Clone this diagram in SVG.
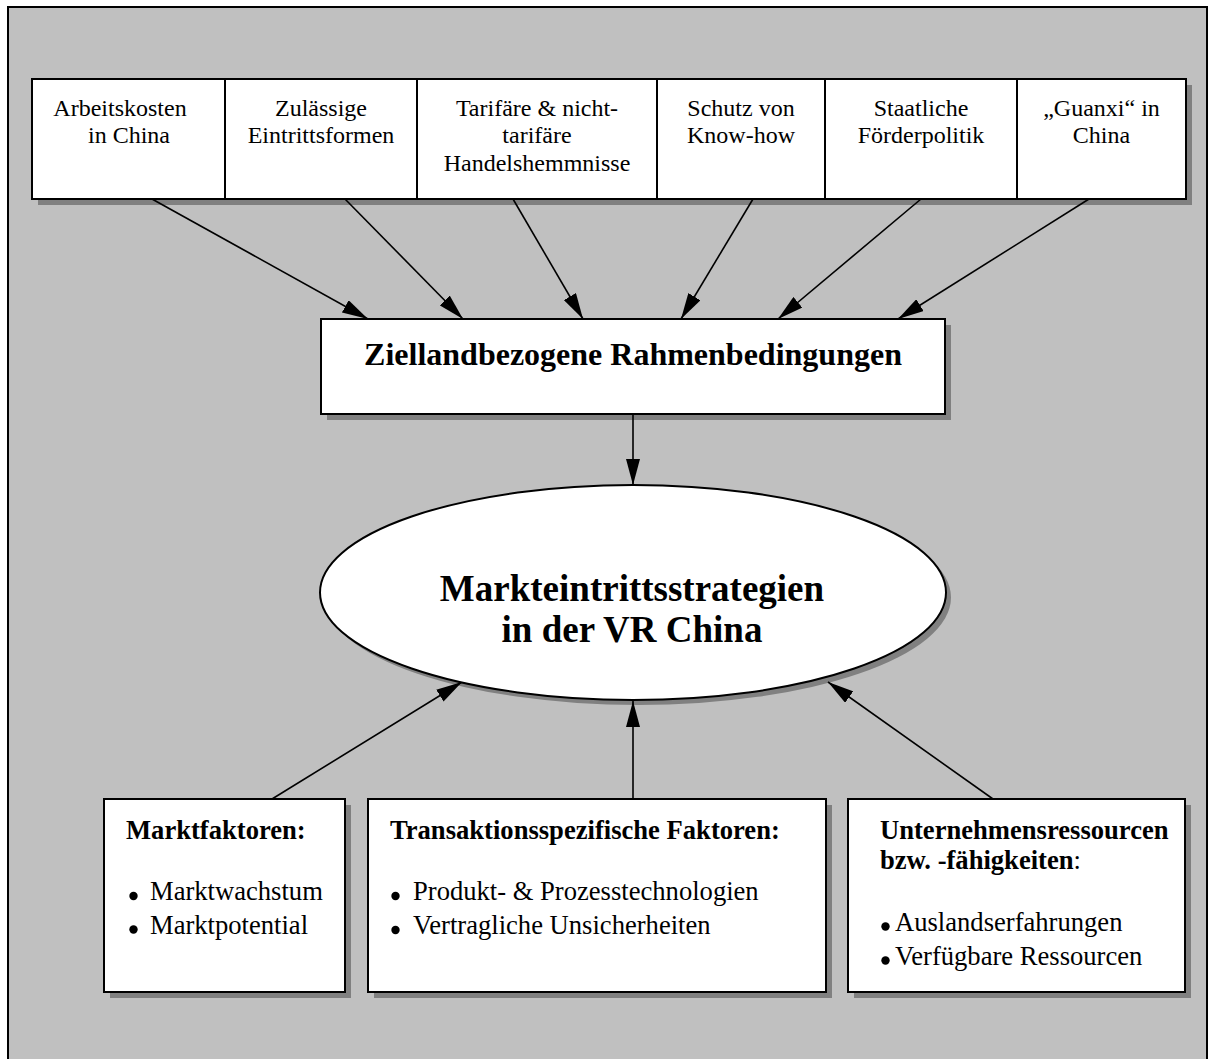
<svg xmlns="http://www.w3.org/2000/svg" width="1214" height="1059" viewBox="0 0 1214 1059">
  <style>
    .frame { fill: #c0c0c0; stroke: #000; stroke-width: 2; }
    .box { fill: #fff; stroke: #000; stroke-width: 2; }
    .shadow { fill: #808080; stroke: none; }
    .t { font-family: "Liberation Serif", "Times New Roman", serif; fill: #000; }
    .top { font-size: 24px; text-anchor: middle; }
    .mid { font-size: 32px; font-weight: bold; text-anchor: middle; }
    .core { font-size: 37px; font-weight: bold; text-anchor: middle; }
    .head { font-size: 26.6px; font-weight: bold; }
    .item { font-size: 26.6px; }
    .dot { fill: #000; }
    .conn { stroke: #000; stroke-width: 1.6; fill: none; marker-end: url(#arrow); }
  </style>
  <defs>
    <marker id="arrow" markerUnits="userSpaceOnUse" markerWidth="26" markerHeight="14" refX="26" refY="7" orient="auto">
      <path d="M0,0 L26,7 L0,14 Z" fill="#000"/>
    </marker>
  </defs>

  <!-- background panel -->
  <rect class="frame" x="8" y="7" width="1199" height="1060"/>

  <!-- drop shadows -->
  <g id="shadows">
    <rect class="shadow" x="38" y="85" width="1154" height="120"/>
    <rect class="shadow" x="327" y="325" width="624" height="95"/>
    <ellipse class="shadow" cx="638" cy="597.5" rx="313" ry="107.5"/>
    <rect class="shadow" x="110" y="805" width="241" height="193"/>
    <rect class="shadow" x="374" y="805" width="458" height="193"/>
    <rect class="shadow" x="854" y="805" width="337" height="193"/>
  </g>

  <!-- connectors -->
  <g id="connectors">
    <line class="conn" x1="152" y1="199" x2="368" y2="319"/>
    <line class="conn" x1="345" y1="199" x2="463" y2="319"/>
    <line class="conn" x1="513" y1="199" x2="583" y2="319"/>
    <line class="conn" x1="753" y1="199" x2="681" y2="319"/>
    <line class="conn" x1="921" y1="199" x2="778" y2="319"/>
    <line class="conn" x1="1089" y1="199" x2="898" y2="319"/>
    <line class="conn" x1="633" y1="414" x2="633" y2="485"/>
    <line class="conn" x1="272" y1="799" x2="462" y2="682"/>
    <line class="conn" x1="633" y1="799" x2="633" y2="701"/>
    <line class="conn" x1="993" y1="799" x2="828" y2="682"/>
  </g>

  <!-- country factors -->
  <g id="arbeitskosten">
    <rect class="box" x="32" y="79" width="193" height="120"/>
    <text class="t top" x="120" y="115.5">Arbeitskosten</text>
    <text class="t top" x="129" y="143">in China</text>
  </g>
  <g id="eintrittsformen">
    <rect class="box" x="225" y="79" width="192" height="120"/>
    <text class="t top" x="321" y="115.5">Zulässige</text>
    <text class="t top" x="321" y="143">Eintrittsformen</text>
  </g>
  <g id="handelshemmnisse">
    <rect class="box" x="417" y="79" width="240" height="120"/>
    <text class="t top" x="537" y="115.5">Tarifäre &amp; nicht-</text>
    <text class="t top" x="537" y="143">tarifäre</text>
    <text class="t top" x="537" y="170.5">Handelshemmnisse</text>
  </g>
  <g id="knowhow">
    <rect class="box" x="657" y="79" width="168" height="120"/>
    <text class="t top" x="741" y="115.5">Schutz von</text>
    <text class="t top" x="741" y="143">Know-how</text>
  </g>
  <g id="foerderpolitik">
    <rect class="box" x="825" y="79" width="192" height="120"/>
    <text class="t top" x="921" y="115.5">Staatliche</text>
    <text class="t top" x="921" y="143">Förderpolitik</text>
  </g>
  <g id="guanxi">
    <rect class="box" x="1017" y="79" width="169" height="120"/>
    <text class="t top" x="1101.5" y="115.5">„Guanxi“ in</text>
    <text class="t top" x="1101.5" y="143">China</text>
  </g>

  <!-- framework conditions -->
  <g id="rahmenbedingungen">
    <rect class="box" x="321" y="319" width="624" height="95"/>
    <text class="t mid" x="633" y="365">Ziellandbezogene Rahmenbedingungen</text>
  </g>

  <!-- central strategy -->
  <g id="strategien">
    <ellipse class="box" cx="633" cy="592.5" rx="313" ry="107.5"/>
    <text class="t core" x="632" y="601">Markteintrittsstrategien</text>
    <text class="t core" x="632" y="642">in der VR China</text>
  </g>

  <!-- influencing factors -->
  <g id="marktfaktoren">
    <rect class="box" x="104" y="799" width="241" height="193"/>
    <text class="t head" x="126" y="839">Marktfaktoren:</text>
    <circle class="dot" cx="133.5" cy="896" r="4.2"/>
    <text class="t item" x="150" y="900">Marktwachstum</text>
    <circle class="dot" cx="133.5" cy="929.5" r="4.2"/>
    <text class="t item" x="150" y="933.5">Marktpotential</text>
  </g>
  <g id="transaktion">
    <rect class="box" x="368" y="799" width="458" height="193"/>
    <text class="t head" x="390" y="839">Transaktionsspezifische Faktoren:</text>
    <circle class="dot" cx="395.5" cy="896" r="4.2"/>
    <text class="t item" x="413" y="900">Produkt- &amp; Prozesstechnologien</text>
    <circle class="dot" cx="395.5" cy="930" r="4.2"/>
    <text class="t item" x="413" y="934">Vertragliche Unsicherheiten</text>
  </g>
  <g id="ressourcen">
    <rect class="box" x="848" y="799" width="337" height="193"/>
    <text class="t head" x="880" y="839">Unternehmensressourcen</text>
    <text class="t head" x="880" y="868.5">bzw. -fähigkeiten<tspan font-weight="normal">:</tspan></text>
    <circle class="dot" cx="885.5" cy="926.5" r="4.2"/>
    <text class="t item" x="895" y="930.5">Auslandserfahrungen</text>
    <circle class="dot" cx="885.5" cy="960.5" r="4.2"/>
    <text class="t item" x="895" y="964.5">Verfügbare Ressourcen</text>
  </g>
</svg>
